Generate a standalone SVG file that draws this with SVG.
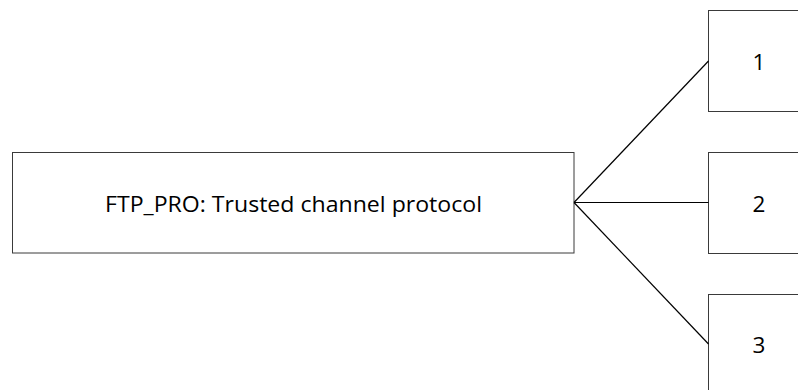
<svg xmlns="http://www.w3.org/2000/svg" width="798" height="390" viewBox="0 0 798 390">
<style>
.box{fill:#ffffff;stroke:#3a3a3a;stroke-width:1}
.lbl{font-family:"Open Sans","Liberation Sans",sans-serif;font-size:22.5px;fill:#000;text-anchor:middle}
.conn{stroke:#000;stroke-width:1.2;fill:none}
</style>
<rect width="798" height="390" fill="#ffffff"/>
<g id="main">
<rect class="box" x="12.5" y="152.5" width="561.5" height="100.5"/>
<text class="lbl" x="293.5" y="211.5" textLength="377" lengthAdjust="spacingAndGlyphs">FTP_PRO: Trusted channel protocol</text>
</g>
<g id="n1">
<rect class="box" x="708.5" y="10.5" width="102" height="101"/>
<text class="lbl" x="759" y="70">1</text>
</g>
<g id="n2">
<rect class="box" x="708.5" y="152.5" width="102" height="101"/>
<text class="lbl" x="759" y="211.5">2</text>
</g>
<g id="n3">
<rect class="box" x="708.5" y="294.5" width="102" height="101"/>
<text class="lbl" x="759" y="353">3</text>
</g>
<g id="connectors">
<line class="conn" x1="574" y1="202.5" x2="708.5" y2="61"/>
<line class="conn" x1="574" y1="202.5" x2="708.5" y2="202.5"/>
<line class="conn" x1="574" y1="202.5" x2="708.5" y2="344"/>
</g>
</svg>
